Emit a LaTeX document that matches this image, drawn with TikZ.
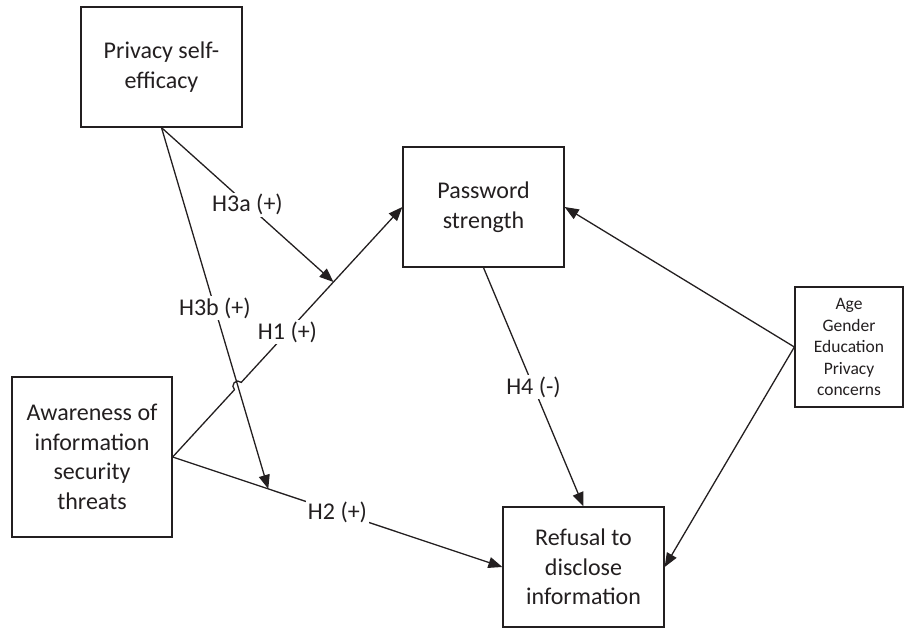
\documentclass[tikz,border=0pt]{standalone}
\usepackage{fontspec}
\setmainfont{Carlito}
\usetikzlibrary{arrows.meta,calc,intersections}

\definecolor{ink}{RGB}{35,31,32}

\tikzset{
	box/.style={draw=ink, text=ink, line width=1.3pt, align=center, inner sep=2pt,
		minimum width=161pt, minimum height=120pt, font=\fontsize{24}{29.5}\selectfont},
	hyp/.style={fill=white, text=ink, inner sep=1.5pt, font=\fontsize{24}{29.5}\selectfont},
	link/.style={draw=ink, line width=1.3pt, -{Triangle[length=14pt,width=11pt]}},
}

\begin{document}
\begin{tikzpicture}[x=1pt,y=1pt]
			\useasboundingbox (0,0) rectangle (904,627);
			
			\node[box] (pse) at (161.5,560) {Privacy self-\\efficacy};
			\node[box] (pw) at (483.5,420) {Password\\strength};
			\node[box, minimum width=160pt, minimum height=160pt] (aw) at (92,170) {Awareness of\\information\\security\\threats};
			\node[box] (ref) at (583.5,60) {Refusal to\\disclose\\information};
			\node[box, minimum width=108pt, font=\fontsize{17.5}{21.5}\selectfont] (ctrl) at (849,280) {Age\\Gender\\Education\\Privacy\\concerns};
			
			% end points on the other arrows
			\coordinate (h3aend) at ($(aw.east)!0.70!(pw.west)$);
			\coordinate (h3bend) at ($(aw.east)!0.29!(ref.west)$);
			
			% hop of H1 over H3b
			\path[name path=h1path] (aw.east) -- (pw.west);
			\path[name path=h3bpath] (pse.south) -- (h3bend);
			\path[name intersections={of=h1path and h3bpath, by=cross}];
			
			\draw[link] (aw.east) -- ($(cross)!5pt!(aw.east)$)
				arc[start angle=227.26, end angle=47.26, radius=5pt] -- (pw.west);
			\draw[link] (aw.east) to (ref.west);
			\draw[link] (pse.south) to (h3aend);
			\draw[link] (pse.south) to (h3bend);
			\draw[link] (pw.south) to (ref.north);
			\draw[link] (ctrl.west) to (pw.east);
			\draw[link] (ctrl.west) to (ref.east);
			
			\node[hyp] (h1) at ($(aw.east)!0.5!(pw.west)$) {H1 (+)};
			\node[hyp] (h2) at ($(aw.east)!0.5!(ref.west)$) {H2 (+)};
			\node[hyp] (h3a) at ($(pse.south)!0.5!(h3aend)$) {H3a (+)};
			\node[hyp] (h3b) at ($(pse.south)!0.5!(h3bend)$) {H3b (+)};
			\node[hyp] (h4) at ($(pw.south)!0.5!(ref.north)$) {H4 (-)};
\end{tikzpicture}
\end{document}
